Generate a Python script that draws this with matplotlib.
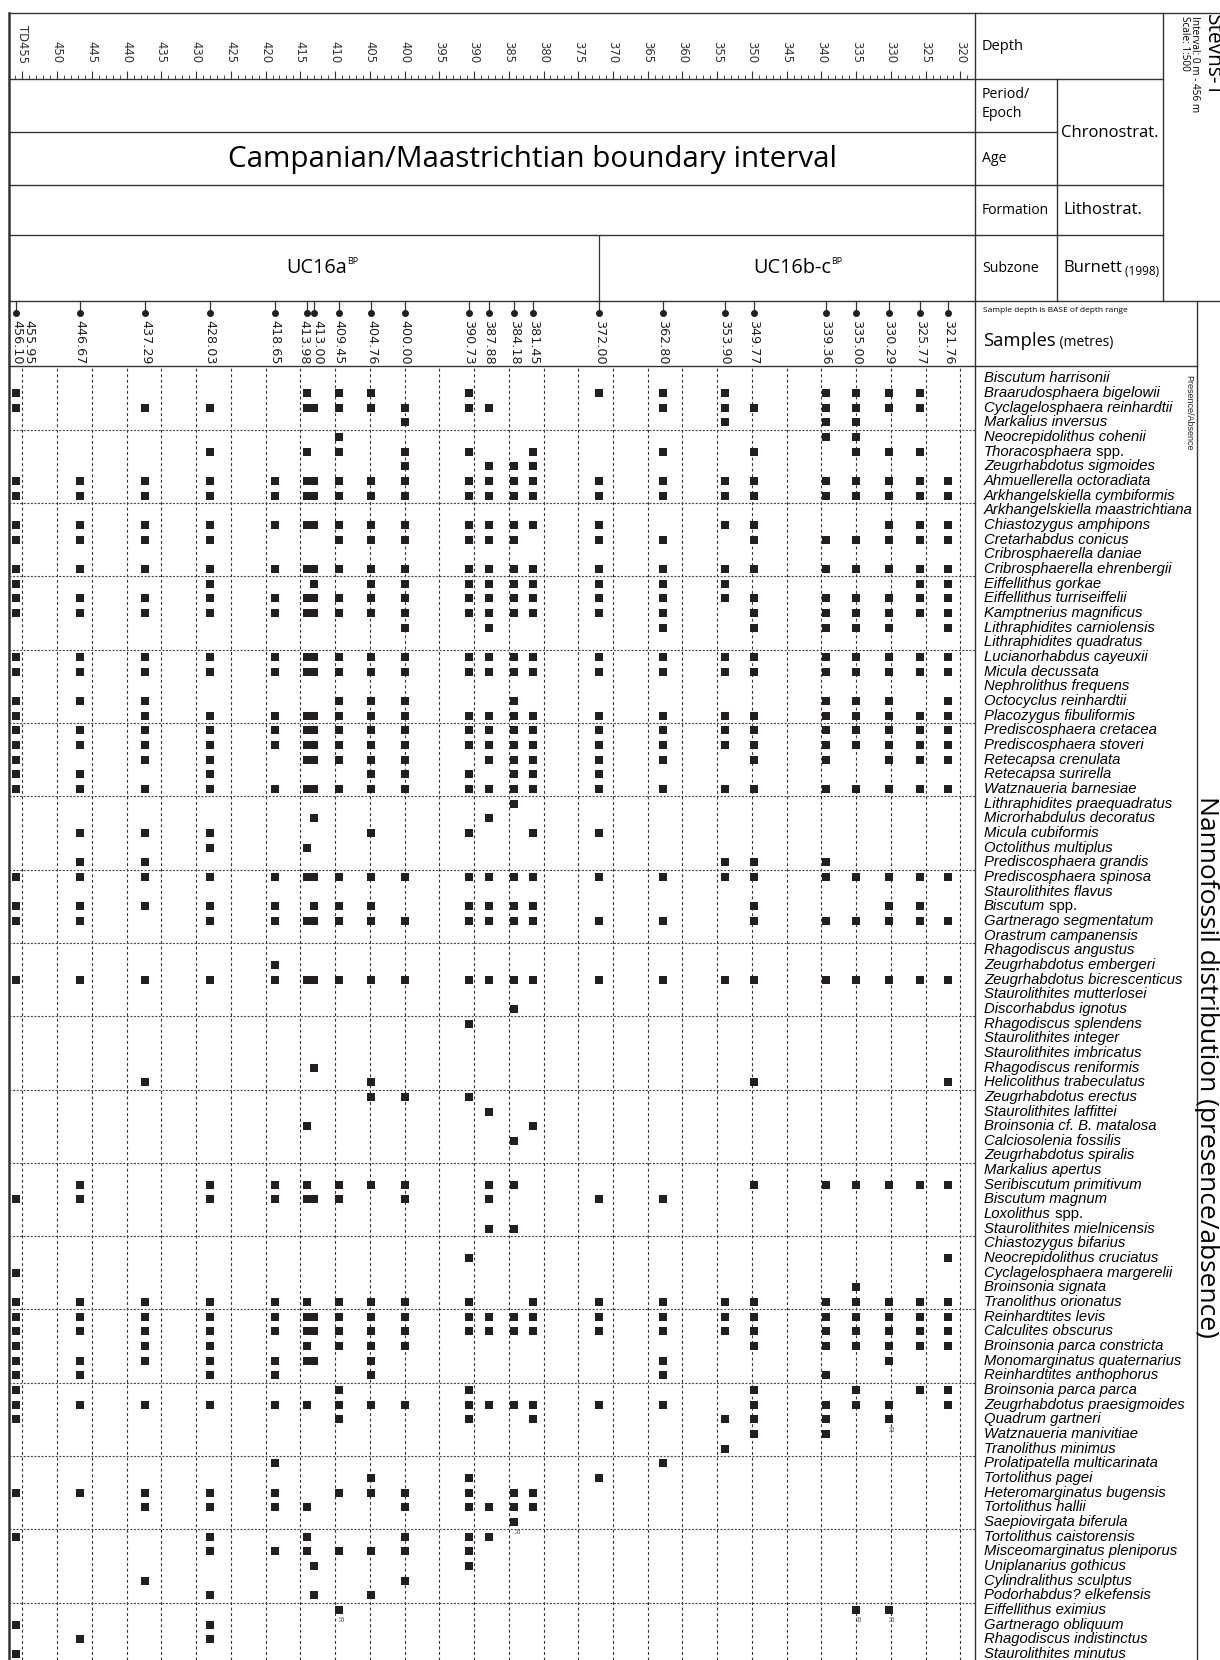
import matplotlib.pyplot as plt

# ---------------- data ----------------
SAMPLE_DEPTHS = [455.95, 446.67, 437.29, 428.03, 418.65, 413.98, 413.00, 409.45,
                 404.76, 400.00, 390.73, 387.88, 384.18, 381.45, 372.00, 362.80,
                 353.90, 349.77, 339.36, 335.00, 330.29, 325.77, 321.76]
SAMPLE_LABELS = ["455.95\n456.10", "446.67", "437.29", "428.03", "418.65", "413.98",
                 "413.00", "409.45", "404.76", "400.00", "390.73", "387.88", "384.18",
                 "381.45", "372.00", "362.80", "353.90", "349.77", "339.36", "335.00",
                 "330.29", "325.77", "321.76"]

DEPTH_TICKS = list(range(455, 319, -5))
DEPTH_TICK_LABELS = ["TD455"] + [str(d) for d in DEPTH_TICKS[1:]]

SUBZONE_NAMES = ["UC16a", "UC16b-c"]
SUBZONE_LABEL_DEPTHS = [412.7, 344.2]
SUBZONE_BOUNDARY = 372.00

SPECIES = [
    "Biscutum harrisonii", "Braarudosphaera bigelowii", "Cyclagelosphaera reinhardtii",
    "Markalius inversus", "Neocrepidolithus cohenii", "Thoracosphaera spp.",
    "Zeugrhabdotus sigmoides", "Ahmuellerella octoradiata", "Arkhangelskiella cymbiformis",
    "Arkhangelskiella maastrichtiana", "Chiastozygus amphipons", "Cretarhabdus conicus",
    "Cribrosphaerella daniae", "Cribrosphaerella ehrenbergii", "Eiffellithus gorkae",
    "Eiffellithus turriseiffelii", "Kamptnerius magnificus", "Lithraphidites carniolensis",
    "Lithraphidites quadratus", "Lucianorhabdus cayeuxii", "Micula decussata",
    "Nephrolithus frequens", "Octocyclus reinhardtii", "Placozygus fibuliformis",
    "Prediscosphaera cretacea", "Prediscosphaera stoveri", "Retecapsa crenulata",
    "Retecapsa surirella", "Watznaueria barnesiae", "Lithraphidites praequadratus",
    "Microrhabdulus decoratus", "Micula cubiformis", "Octolithus multiplus",
    "Prediscosphaera grandis", "Prediscosphaera spinosa", "Staurolithites flavus",
    "Biscutum spp.", "Gartnerago segmentatum", "Orastrum campanensis",
    "Rhagodiscus angustus", "Zeugrhabdotus embergeri", "Zeugrhabdotus bicrescenticus",
    "Staurolithites mutterlosei", "Discorhabdus ignotus", "Rhagodiscus splendens",
    "Staurolithites integer", "Staurolithites imbricatus", "Rhagodiscus reniformis",
    "Helicolithus trabeculatus", "Zeugrhabdotus erectus", "Staurolithites laffittei",
    "Broinsonia cf. B. matalosa", "Calciosolenia fossilis", "Zeugrhabdotus spiralis",
    "Markalius apertus", "Seribiscutum primitivum", "Biscutum magnum",
    "Loxolithus spp.", "Staurolithites mielnicensis", "Chiastozygus bifarius",
    "Neocrepidolithus cruciatus", "Cyclagelosphaera margerelii", "Broinsonia signata",
    "Tranolithus orionatus", "Reinhardtites levis", "Calculites obscurus",
    "Broinsonia parca constricta", "Monomarginatus quaternarius", "Reinhardtites anthophorus",
    "Broinsonia parca parca", "Zeugrhabdotus praesigmoides", "Quadrum gartneri",
    "Watznaueria manivitiae", "Tranolithus minimus", "Prolatipatella multicarinata",
    "Tortolithus pagei", "Heteromarginatus bugensis", "Tortolithus hallii",
    "Saepiovirgata biferula", "Tortolithus caistorensis", "Misceomarginatus pleniporus",
    "Uniplanarius gothicus", "Cylindralithus sculptus", "Podorhabdus? elkefensis",
    "Eiffellithus eximius", "Gartnerago obliquum", "Rhagodiscus indistinctus",
    "Staurolithites minutus",
]

# one character per sample column (same order as SAMPLE_DEPTHS), x = present
PRESENCE = [
    "..... ..... ..... ..... ...", "x.... x.xx. x...x xx.xx xx.", "x.xx. xxxxx xx... xxxxx xx.",
    "..... ....x ..... .x.xx ...", "..... ..x.. ..... ...xx ...", "...x. x.x.x x..x. x.x.x xx.",
    "..... ....x .xxx. ..... ...", "xxxxx xxxxx xxxxx xxxxx xxx", "xxxxx xxxxx xxxxx xxxxx xxx",
    "..... ..... ..... ..... ...", "xxxxx xxxxx xxxxx .xx.. xxx", "xxxx. ..xxx xxx.x x.xxx xxx",
    "..... ..... ..... ..... ...", "xxxxx xxxxx xxxxx xxxxx xxx", "x..x. .x.xx xxxxx xx... .xx",
    "xxxxx xxxxx xxxxx xxxxx xxx", "xxxxx xxxxx xxxxx x.xxx xxx", "..... ....x .x... x.xxx x.x",
    "..... ..... ..... ..... ...", "xxxxx xxxxx xxxxx xxxxx xxx", "xxxxx xxxxx xxxxx xxxxx xxx",
    "..... ..... ..... ..... ...", "xxx.. ..xxx ..x.. ...xx x.x", "x.xxx xxxxx xxxxx xxxxx xxx",
    "xxxxx xxxxx xxxxx xxxxx xxx", "xxxxx xxxxx xxxxx xxxxx xxx", "x.xx. xxxxx .xxxx x.xx. xxx",
    "xx.x. ...xx x.xxx ..... ...", "xxxxx xxxxx xxxxx xxxxx xxx", "..... ..... ..x.. ..... ...",
    "..... .x... .x... ..... ...", ".xxx. ...x. x..xx ..... ...", "...x. x.... ..... ..... ...",
    ".xx.. ..... ..... .xxx. ...", "xxxxx xxxxx xxxxx xxxxx xxx", "..... ..... ..... ..... ...",
    "xxxxx .xxx. xxxx. ..x.. xx.", "xx.xx xxxxx xxxxx x.xxx xxx", "..... ..... ..... ..... ...",
    "..... ..... ..... ..... ...", "....x ..... ..... ..... ...", "xxxxx xxxxx xxxxx xxxxx xxx",
    "..... ..... ..... ..... ...", "..... ..... ..x.. ..... ...", "..... ..... x.... ..... ...",
    "..... ..... ..... ..... ...", "..... ..... ..... ..... ...", "..... .x... ..... ..... ...",
    "..x.. ...x. ..... ..x.. ..x", "..... ...xx x.... ..... ...", "..... ..... .x... ..... ...",
    "..... x.... ...x. ..... ...", "..... ..... ..x.. ..... ...", "..... ..... ..... ..... ...",
    "..... ..... ..... ..... ...", ".x.xx x.xxx .xx.. ..xxx xxx", "xx.xx xxx.x .x..x x.... ...",
    "..... ..... ..... ..... ...", "..... ..... .xx.. ..... ...", "..... ..... ..... ..... ...",
    "..... ..... x.... ..... ..x", "x.... ..... ..... ..... ...", "..... ..... ..... ....x ...",
    "xxxxx x.xxx x..xx xxxxx xxx", "xxxxx xxxxx xxxxx xxxxx xxx", "xxxxx xxxxx xxxxx xxxxx xxx",
    "x.xx. x.xxx ..... ..xxx xxx", "xxxxx xx.x. ..... x.... x..", "xx.xx ...x. ..... x..x. ...",
    "x.... ..x.. x.... ..x.x .xx", "xxxxx x.xxx xxxxx x.xxx x.x", "x.... ..x.. x..x. .xxx. x..",
    "..... ..... ..... ..xx. ...", "..... ..... ..... .x... ...", "....x ..... ..... x.... ...",
    "..... ...x. x...x ..... ...", "xxxxx ..xxx x.xx. ..... ...", "..xxx x...x xxxx. ..... ...",
    "..... ..... ..x.. ..... ...", "x..x. x...x xx... ..... ...", "...xx x.xxx x.... ..... ...",
    "..... .x... x.... ..... ...", "..x.. ....x ..... ..... ...", "...x. .x.x. ..... ..... ...",
    "..... ..x.. ..... ....x x..", "x..x. ..... ..... ..... ...", ".x.x. ..... ..... ..... ...",
    "x.... ..... ..... ..... ...",
]

# reworked occurrences marked "R"
REWORKED_SPECIES = ["Quadrum gartneri", "Saepiovirgata biferula", "Eiffellithus eximius",
                    "Eiffellithus eximius", "Eiffellithus eximius"]
REWORKED_DEPTHS = [330.29, 384.18, 409.45, 335.00, 330.29]

# ---------------- layout (pixels) ----------------
W, H = 1220, 1660
L, DR, LC, CC, SR = 8.5, 975, 1057, 1163, 1197
T, Y_DEP, Y_PER, Y_AGE, Y_FORM, Y_SUB, Y_SAMP = 13, 79, 132, 185, 235, 301, 366
ROW0, DROW = 378.5, 14.66
XLIM = (457.0, 317.9)
HEAD = ['Open Sans', 'DejaVu Sans']
INK = '#231f20'

fig = plt.figure(figsize=(W / 100, H / 100), dpi=100)


def box(x0, y0, x1, y1):
    return [x0 / W, 1 - y1 / H, (x1 - x0) / W, (y1 - y0) / H]


def rows(y):
    return (y - ROW0) / DROW


# overlay for the frame and header text
ov = fig.add_axes([0, 0, 1, 1])
ov.set_xlim(0, W)
ov.set_ylim(H, 0)
ov.axis('off')

# ---- main presence/absence panel ----
ax = fig.add_axes(box(L, Y_SAMP, DR, H))
ax.set_xlim(*XLIM)
ax.set_ylim(rows(H), rows(Y_SAMP))
ax.axis('off')
for d in DEPTH_TICKS:
    ax.axvline(d, color='#333333', lw=0.8, ls=(0, (2.6, 2.4)), zorder=1)
for k in range(17):
    ax.axhline(3.5 + 5 * k, color='#444444', lw=0.8, ls=(0, (1.8, 1.4)), zorder=1)

xs, ys = [], []
for i, code in enumerate(PRESENCE):
    code = code.replace(" ", "")
    for j, c in enumerate(code):
        if c == 'x':
            xs.append(SAMPLE_DEPTHS[j])
            ys.append(i)
ax.scatter(xs, ys, marker='s', s=40, color=INK, linewidths=0, zorder=3)

for sp, d in zip(REWORKED_SPECIES, REWORKED_DEPTHS):
    ax.text(d, SPECIES.index(sp) + 0.62, "R", rotation=-90, fontsize=5.5,
            color='#555555', ha='center', va='center', family='Liberation Sans')

# ---- species names ----
NAME_FS = 10.7
nax = fig.add_axes(box(DR, Y_SAMP, SR, H))
nax.set_xlim(0, 1)
nax.set_ylim(rows(H), rows(Y_SAMP))
nax.axis('off')
for i, name in enumerate(SPECIES):
    if name.endswith(" spp."):
        t = nax.text(0.04, i, name[:-5], style='italic', fontsize=NAME_FS,
                     family='Liberation Sans', va='center', ha='left')
        nax.annotate(" spp.", xy=(1, 0.5), xycoords=t, fontsize=NAME_FS,
                     family='Liberation Sans', va='center', ha='left')
    else:
        nax.text(0.04, i, name, style='italic', fontsize=NAME_FS,
                 family='Liberation Sans', va='center', ha='left')
ov.text(1189, 375, "Presence/Absence", rotation=-90, rotation_mode='anchor',
        ha='left', va='center', fontsize=6.5, family='Liberation Sans', color='#222222')

# ---- depth scale ----
dax = fig.add_axes(box(L, T, DR, Y_DEP))
dax.set_xlim(*XLIM)
dax.set_ylim(0, 1)
for s in dax.spines.values():
    s.set_visible(False)
dax.patch.set_visible(False)
dax.set_yticks([])
dax.set_xticks(DEPTH_TICKS)
dax.set_xticks(range(456, 318, -1), minor=True)
dax.tick_params(axis='x', which='major', direction='in', length=6, width=0.8,
                color='#333333', labelbottom=False)
dax.tick_params(axis='x', which='minor', direction='in', length=3, width=0.6,
                color='#333333')
for d, lab in zip(DEPTH_TICKS, DEPTH_TICK_LABELS):
    dax.text(d, 0.24, lab, rotation=-90, rotation_mode='anchor', ha='right',
             va='center', fontsize=8.4, color='#333333')

# ---- subzones ----
zax = fig.add_axes(box(L, Y_FORM, DR, Y_SUB))
zax.set_xlim(*XLIM)
zax.set_ylim(0, 1)
zax.axis('off')
zax.axvline(SUBZONE_BOUNDARY, color='#333333', lw=0.9)
for name, d in zip(SUBZONE_NAMES, SUBZONE_LABEL_DEPTHS):
    t = zax.text(d, 0.5, name, ha='center', va='center', fontsize=14.3, family=HEAD)
    zax.annotate("BP", xy=(1, 0.62), xycoords=t, fontsize=6.5, family=HEAD,
                 ha='left', va='bottom')

# ---- samples ----
LABEL_SHIFT = {"455.95\n456.10": 5, "413.98": -2.5, "413.00": 2.5}
sax = fig.add_axes(box(L, Y_SUB, DR, Y_SAMP))
sax.set_xlim(*XLIM)
sax.set_ylim(0, 1)
sax.axis('off')
sax.vlines(SAMPLE_DEPTHS, 0.81, 1, color='#333333', lw=0.9)
sax.scatter(SAMPLE_DEPTHS, [0.81] * len(SAMPLE_DEPTHS), s=16, color=INK, zorder=3)
for d, lab in zip(SAMPLE_DEPTHS, SAMPLE_LABELS):
    sax.annotate(lab, xy=(d, 0.71), xytext=(LABEL_SHIFT.get(lab, 0), 0),
                 textcoords='offset points', rotation=-90, rotation_mode='anchor',
                 ha='left', va='center', fontsize=9.2, linespacing=0.9,
                 color='#231f20')

# ---- frame ----
fr = dict(color='#333333', lw=1.0)
ov.plot([L, W], [T, T], **fr)
ov.plot([L, L], [T, H], color='#333333', lw=1.8)
ov.plot([DR, DR], [T, H], **fr)
ov.plot([L, CC], [Y_DEP, Y_DEP], **fr)
ov.plot([L, LC], [Y_PER, Y_PER], **fr)
ov.plot([L, CC], [Y_AGE, Y_AGE], **fr)
ov.plot([L, CC], [Y_FORM, Y_FORM], **fr)
ov.plot([L, W], [Y_SUB, Y_SUB], **fr)
ov.plot([L, SR], [Y_SAMP, Y_SAMP], **fr)
ov.plot([LC, LC], [Y_DEP, Y_SUB], **fr)
ov.plot([CC, CC], [T, Y_SUB], **fr)
ov.plot([SR, SR], [Y_SUB, H], **fr)

# ---- header text ----
ov.text(982, 46, "Depth", fontsize=10.5, family=HEAD, va='center')
ov.text(982, 104, "Period/\nEpoch", fontsize=10.2, family=HEAD, va='center',
        linespacing=1.4)
ov.text(982, 159, "Age", fontsize=10.2, family=HEAD, va='center')
ov.text(982, 210, "Formation", fontsize=10, family=HEAD, va='center')
ov.text(982, 268, "Subzone", fontsize=10.2, family=HEAD, va='center')
ov.text(1061, 133, "Chronostrat.", fontsize=12, family=HEAD, va='center')
ov.text(1063, 210, "Lithostrat.", fontsize=12, family=HEAD, va='center')
t = ov.text(1063, 268, "Burnett", fontsize=12, family=HEAD, va='center')
ov.annotate(" (1998)", xy=(1, 0.3), xycoords=t, fontsize=8.5, family=HEAD,
            va='center', ha='left')
ov.text(983, 310, "Sample depth is BASE of depth range", fontsize=6,
        family=HEAD, va='center')
t = ov.text(983, 341, "Samples", fontsize=13.2, family=HEAD, va='center')
ov.annotate(" (metres)", xy=(1, 0.4), xycoords=t, fontsize=10, family=HEAD,
            va='center', ha='left')
ov.text(533, 159, "Campanian/Maastrichtian boundary interval", fontsize=21.3,
        family=HEAD, ha='center', va='center')
ov.text(1212, 14, "Stevns-1", rotation=-90, rotation_mode='anchor', ha='left',
        va='center', fontsize=15, family=HEAD)
ov.text(1195, 16, "Interval: 0 m - 456 m", rotation=-90, rotation_mode='anchor',
        ha='left', va='center', fontsize=7.2, family=HEAD)
ov.text(1184, 16, "Scale: 1:500", rotation=-90, rotation_mode='anchor',
        ha='left', va='center', fontsize=7.2, family=HEAD)
ov.text(1200, 1067, "Nannofossil distribution (presence/absence)", rotation=-90,
        rotation_mode='anchor', ha='center', va='baseline', fontsize=19,
        family=HEAD)

fig.savefig("out.png", dpi=100)
